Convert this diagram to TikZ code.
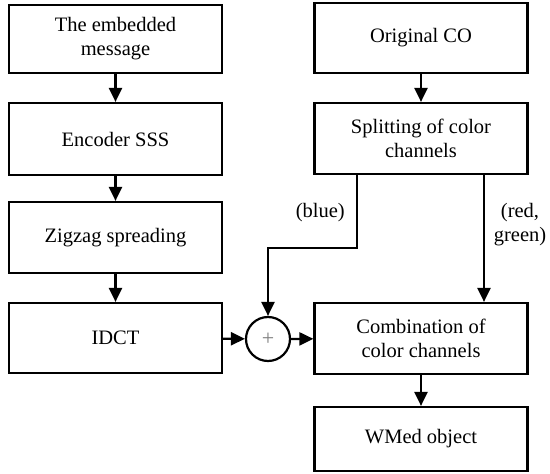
\documentclass[tikz,border=0pt]{standalone}
\usepackage{fontspec}
\setmainfont{Liberation Serif}
\usetikzlibrary{arrows.meta}

\tikzset{
	box/.style={draw, line width=2.2pt, minimum width=213pt, align=center,
		inner sep=0pt, font=\rmfamily\fontsize{20.5}{24}\selectfont},
	arr/.style={line width=2.2pt, -{Triangle[length=14pt,width=13pt]}},
	lbl/.style={align=center, inner sep=0pt, font=\rmfamily\fontsize{20.5}{24}\selectfont}
}

\begin{document}
\begin{tikzpicture}[x=1pt, y=-1pt]
	\useasboundingbox (0, 0) rectangle (550, 474);
	% left column
	\node [box, minimum height=68pt] (msg) at (115.5, 39) {The embedded\\message};
	\node [box, minimum height=72pt] (enc) at (115.5, 139) {Encoder SSS};
	\node [box, minimum height=71pt] (zig) at (115.5, 237.5) {Zigzag spreading};
	\node [box, minimum height=70pt] (idct) at (115.5, 338) {IDCT};
	% right column
	\node [box, minimum height=70pt] (orig) at (421, 38) {Original CO};
	\node [box, minimum height=71pt] (split) at (421, 138.5) {Splitting of color\\channels};
	\node [box, minimum height=71pt] (comb) at (421, 338.5) {Combination of\\color channels};
	\node [box, minimum height=64pt] (wmed) at (421, 439) {WMed object};
	% adder
	\node [draw, line width=2.2pt, circle, minimum size=44pt, inner sep=0pt,
		text=gray, font=\rmfamily\fontsize{22}{22}\selectfont] (sum) at (268, 339) {+};
	\coordinate (bl) at (357, 174);
	\coordinate (bk) at (357, 248);
	\coordinate (rg) at (484, 174);
	\node [lbl, anchor=east] (blue) at (345, 213) {(blue)};
	\node [lbl] (redgreen) at (520, 225) {(red,\\green)};
	\draw [arr] (msg) -- (enc);
	\draw [arr] (enc) -- (zig);
	\draw [arr] (zig) -- (idct);
	\draw [arr] (idct) -- (sum);
	\draw [arr] (sum) -- (comb);
	\draw [arr] (orig) -- (split);
	\draw [arr] (bl) -- (bk) -| (sum);
	\draw [arr] (rg) -- (rg |- comb.north);
	\draw [arr] (comb) -- (wmed);
\end{tikzpicture}
\end{document}
